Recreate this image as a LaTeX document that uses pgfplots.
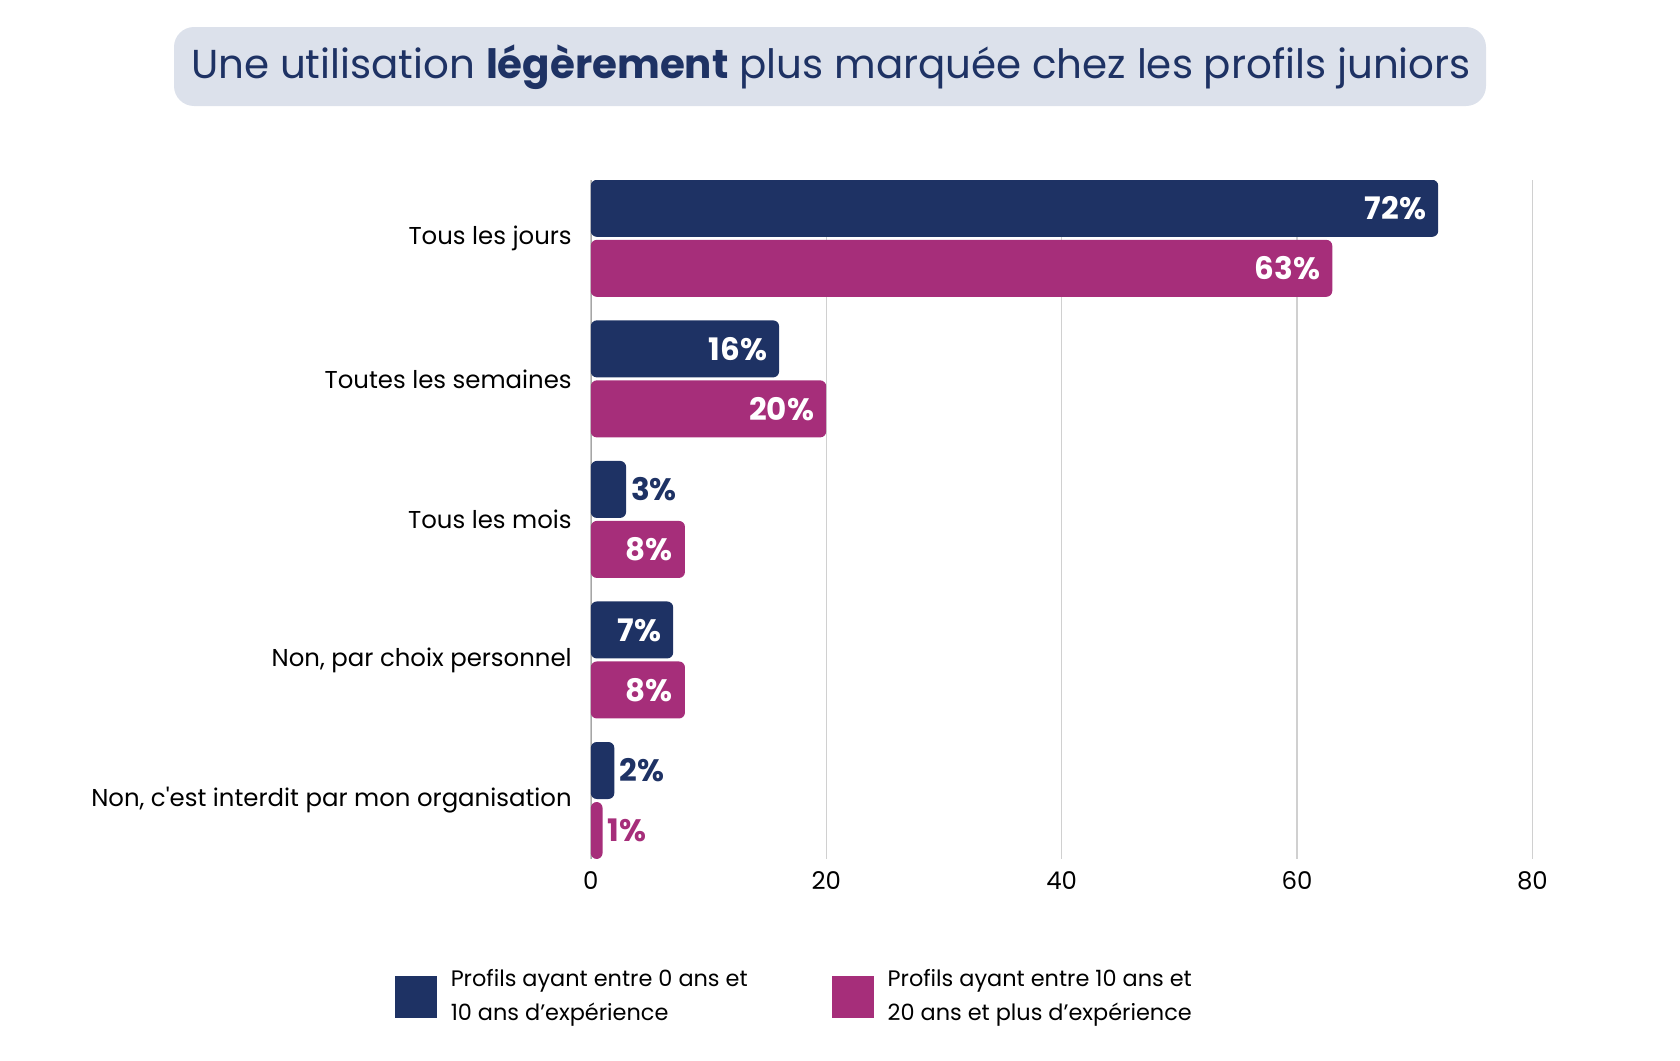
\documentclass[border=0pt]{standalone}
\usepackage{pgfplots}
\pgfplotsset{compat=1.18}
\usepackage{fontspec}
\setmainfont{Poppins}
\definecolor{cNavy}{HTML}{1E3264}
\definecolor{cMag}{HTML}{A62E7A}
\definecolor{cBox}{HTML}{DCE1EB}
\definecolor{cGrid}{HTML}{D0D0D0}
\begin{document}
\begin{tikzpicture}[x=1pt,y=1pt]
\path (0,0) rectangle (840,-530);
\fill[cBox, rounded corners=10pt] (87,-13.5) rectangle (743,-53);
\node[text=cNavy, font=\fontsize{20.2}{24}\selectfont] at (415.5,-33.5) {Une utilisation \textbf{légèrement} plus marquée chez les profils juniors};
\begin{axis}[
  at={(295.4pt,-90pt)}, anchor=north west,
  scale only axis, width=470.8pt, height=339.4pt,
  xbar, bar width=28.5pt,
  xmin=0, xmax=80, ymin=-0.415, ymax=4.415,
  y dir=reverse,
  axis line style={draw=none},
  xtick={0,20,40,60,80},
  xmajorgrids, grid style={cGrid, line width=0.6pt},
  major tick length=0pt,
  ytick={0,1,2,3,4},
  yticklabels={Tous les jours, Toutes les semaines, Tous les mois, {Non, par choix personnel}, {Non, c\textquotesingle est interdit par mon organisation}},
  yticklabel style={font=\fontsize{12.2}{14}\selectfont, xshift=-6pt},
  xticklabel style={font=\fontsize{12.2}{14}\selectfont, yshift=-3pt},
  /pgf/number format/assume math mode=true,
  legend columns=2,
  legend style={at={(axis description cs:-0.215,-0.151)}, anchor=north west, draw=none, font=\fontsize{11.2}{17}\selectfont, cells={align=left, anchor=west}, /tikz/every odd column/.append style={column sep=5pt}, /tikz/every even column/.append style={column sep=40pt}},
  nodes near coords={\pgfmathprintnumber{\rawx}\%},
  visualization depends on={x \as \rawx},
  every node near coord/.append style={font=\bfseries\fontsize{15.5}{17}\selectfont},
]
\draw[gray!70, line width=0.8pt] (axis cs:0,-0.415) -- (axis cs:0,4.415);
\addplot[fill=cNavy, draw=none, rounded corners=3pt, bar shift=15pt,
  legend image code/.code={\fill[cNavy, sharp corners] (0pt,-10.5pt) rectangle (21pt,10.5pt);},
  every node near coord/.append code={\pgfmathparse{\rawx<5 ? 1 : 0}\ifnum\pgfmathresult=1 \pgfkeysalso{anchor=west, text=cNavy, xshift=-1pt}\else\pgfkeysalso{anchor=east, text=white, xshift=-2.5pt}\fi}]
  coordinates {(72,0) (16,1) (3,2) (7,3) (2,4)};
\addlegendentry{Profils ayant entre 0 ans et\\10 ans d’expérience}
\addplot[fill=cMag, draw=none, rounded corners=3pt, bar shift=-15pt,
  legend image code/.code={\fill[cMag, sharp corners] (0pt,-10.5pt) rectangle (21pt,10.5pt);},
  every node near coord/.append code={\pgfmathparse{\rawx<5 ? 1 : 0}\ifnum\pgfmathresult=1 \pgfkeysalso{anchor=west, text=cMag, xshift=-1pt}\else\pgfkeysalso{anchor=east, text=white, xshift=-2.5pt}\fi}]
  coordinates {(63,0) (20,1) (8,2) (8,3) (1,4)};
\addlegendentry{Profils ayant entre 10 ans et\\20 ans et plus d’expérience}
\end{axis}
\end{tikzpicture}
\end{document}
